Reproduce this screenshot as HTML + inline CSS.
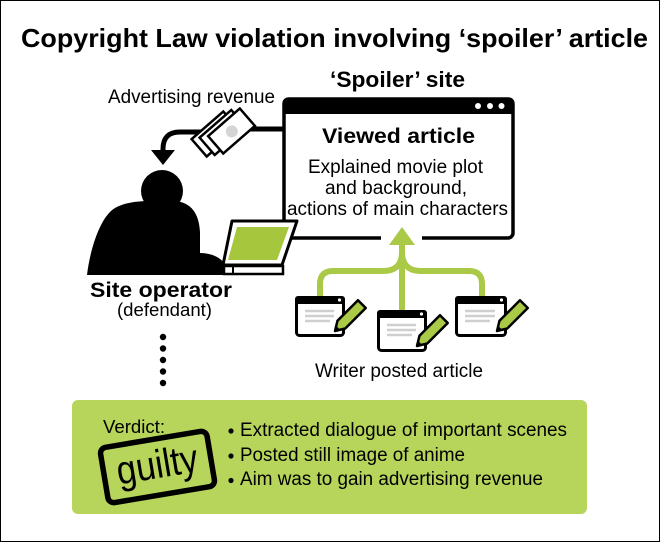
<!DOCTYPE html>
<html><head><meta charset="utf-8"><style>
html,body{margin:0;padding:0;background:#fff;}
svg{display:block;}
text{font-family:"Liberation Sans",Arial,sans-serif;fill:#000;}
</style></head><body>
<svg width="660" height="542" viewBox="0 0 660 542" xmlns="http://www.w3.org/2000/svg">
<rect x="0.5" y="0.5" width="659" height="541" fill="#fff" stroke="#000" stroke-width="1"/>

<text x="21" y="47" font-size="26" font-weight="bold" textLength="627" lengthAdjust="spacingAndGlyphs">Copyright Law violation involving ‘spoiler’ article</text>

<text x="330" y="87" font-size="22" font-weight="bold" textLength="135" lengthAdjust="spacingAndGlyphs">‘Spoiler’ site</text>
<text x="108" y="103" font-size="19" textLength="167" lengthAdjust="spacingAndGlyphs">Advertising revenue</text>

<!-- black connector to operator -->
<path d="M250,129 H285" stroke="#000" stroke-width="5" fill="none"/>
<path d="M205,132 H180 Q163,132 163,149 V152" stroke="#000" stroke-width="5" fill="none"/>
<polygon points="151,150 175,150 163,165" fill="#000"/>

<!-- bills -->
<g transform="translate(215,134) rotate(-41)"><rect x="-21" y="-11.5" width="42" height="23" fill="#fff" stroke="#000" stroke-width="2.5"/></g>
<g transform="translate(223,132.5) rotate(-41)"><rect x="-21" y="-11.5" width="42" height="23" fill="#fff" stroke="#000" stroke-width="2.5"/></g>
<g transform="translate(231.5,131) rotate(-41)"><rect x="-21" y="-11.5" width="42" height="23" fill="#fff" stroke="#000" stroke-width="2.5"/><circle cx="0" cy="0.5" r="6" fill="#d4d4d4"/></g>

<!-- browser window -->
<rect x="284" y="99" width="229" height="139" rx="5" fill="#fff" stroke="#000" stroke-width="3.5"/>
<path d="M282.5,114 V103 a5.5,5.5 0 0 1 5.5,-5.5 H509 a5.5,5.5 0 0 1 5.5,5.5 V114 Z" fill="#000"/>
<circle cx="478" cy="106" r="3" fill="#fff"/>
<circle cx="490" cy="106" r="3" fill="#fff"/>
<circle cx="501.5" cy="106" r="3" fill="#fff"/>
<rect x="381" y="234" width="41" height="7" fill="#fff"/>

<text x="322" y="143" font-size="21" font-weight="bold" textLength="153" lengthAdjust="spacingAndGlyphs">Viewed article</text>
<text x="308" y="173" font-size="19" textLength="175" lengthAdjust="spacingAndGlyphs">Explained movie plot</text>
<text x="325" y="194" font-size="19" textLength="142" lengthAdjust="spacingAndGlyphs">and background,</text>
<text x="287" y="215" font-size="19" textLength="221" lengthAdjust="spacingAndGlyphs">actions of main characters</text>

<!-- person -->
<circle cx="162" cy="191" r="21" fill="#000"/>
<path d="M87,275 C90,250 99,222 111,211 C119,204 133,201 150,201 L176,201 C191,203 199,213 200,232 L200,253 C213,253 227,259 229,275 Z" fill="#000"/>

<!-- laptop -->
<polygon points="232,221 297,221 282,265 223,265" fill="#fff" stroke="#000" stroke-width="3" stroke-linejoin="round"/>
<polygon points="237,227 289,227 277,260 228,260" fill="#a6c63d"/>
<rect x="224" y="266" width="59" height="8" fill="#fff" stroke="#000" stroke-width="2.5"/>
<line x1="233" y1="266" x2="233" y2="274" stroke="#000" stroke-width="2"/>

<text x="90" y="297" font-size="21" font-weight="bold" textLength="142" lengthAdjust="spacingAndGlyphs">Site operator</text>
<text x="117" y="316" font-size="18" textLength="95" lengthAdjust="spacingAndGlyphs">(defendant)</text>

<circle cx="163" cy="337" r="3.2" fill="#000"/>
<circle cx="163" cy="348.5" r="3.2" fill="#000"/>
<circle cx="163" cy="360" r="3.2" fill="#000"/>
<circle cx="163" cy="371.5" r="3.2" fill="#000"/>
<circle cx="163" cy="383" r="3.2" fill="#000"/>

<!-- green connectors -->
<g stroke="#a9c947" stroke-width="6" fill="none">
<path d="M402,243 V312"/>
<path d="M402,252 Q402,271 383,271 H333 Q320,271 320,284 V298"/>
<path d="M402,252 Q402,271 421,271 H469 Q482,271 482,284 V298"/>
</g>
<polygon points="402,227 389,245 415,245" fill="#a9c947"/>

<!-- docs -->
<g>
<rect x="296.5" y="297.5" width="47" height="38" rx="3" fill="#fff" stroke="#000" stroke-width="3"/>
<path d="M295,304 V299 a3,3 0 0 1 3,-3 H342 a3,3 0 0 1 3,3 V304 Z" fill="#000"/>
<circle cx="339.5" cy="300" r="1.6" fill="#fff"/>
<g stroke="#cfcfcf" stroke-width="2.5"><line x1="305" y1="311" x2="334" y2="311"/><line x1="305" y1="316" x2="334" y2="316"/><line x1="305" y1="321" x2="330" y2="321"/></g>
</g>
<g>
<rect x="378.5" y="311.5" width="47" height="39" rx="3" fill="#fff" stroke="#000" stroke-width="3"/>
<path d="M377,318 V313 a3,3 0 0 1 3,-3 H424 a3,3 0 0 1 3,3 V318 Z" fill="#000"/>
<circle cx="421.5" cy="314" r="1.6" fill="#fff"/>
<g stroke="#cfcfcf" stroke-width="2.5"><line x1="387" y1="325" x2="416" y2="325"/><line x1="387" y1="330" x2="416" y2="330"/><line x1="387" y1="335" x2="412" y2="335"/></g>
</g>
<g>
<rect x="456.5" y="297.5" width="49" height="38" rx="3" fill="#fff" stroke="#000" stroke-width="3"/>
<path d="M455,304 V299 a3,3 0 0 1 3,-3 H504 a3,3 0 0 1 3,3 V304 Z" fill="#000"/>
<circle cx="501.5" cy="300" r="1.6" fill="#fff"/>
<g stroke="#cfcfcf" stroke-width="2.5"><line x1="465" y1="311" x2="495" y2="311"/><line x1="465" y1="316" x2="495" y2="316"/><line x1="465" y1="321" x2="490" y2="321"/></g>
</g>

<!-- pencils -->
<g transform="translate(335,331) rotate(-45)">
<polygon points="0,0 9,-5.5 38,-5.5 38,5.5 9,5.5" fill="#a9c947" stroke="#000" stroke-width="2.5" stroke-linejoin="round"/>
<polygon points="0,0 4.5,-2.8 4.5,2.8" fill="#000"/>
</g>
<g transform="translate(417,346) rotate(-45)">
<polygon points="0,0 9,-5.5 38,-5.5 38,5.5 9,5.5" fill="#a9c947" stroke="#000" stroke-width="2.5" stroke-linejoin="round"/>
<polygon points="0,0 4.5,-2.8 4.5,2.8" fill="#000"/>
</g>
<g transform="translate(497,331) rotate(-45)">
<polygon points="0,0 9,-5.5 38,-5.5 38,5.5 9,5.5" fill="#a9c947" stroke="#000" stroke-width="2.5" stroke-linejoin="round"/>
<polygon points="0,0 4.5,-2.8 4.5,2.8" fill="#000"/>
</g>

<text x="315" y="377" font-size="19" textLength="168" lengthAdjust="spacingAndGlyphs">Writer posted article</text>

<!-- verdict box -->
<rect x="72" y="400" width="515" height="114" rx="6" fill="#b7d55b"/>
<text x="103" y="433" font-size="18" textLength="62" lengthAdjust="spacingAndGlyphs">Verdict:</text>
<g transform="translate(157.5,467) rotate(-9.5)">
<rect x="-54" y="-28" width="108" height="56" rx="6" fill="none" stroke="#000" stroke-width="5.5"/>
<text x="-41" y="11" font-size="40" textLength="82" lengthAdjust="spacingAndGlyphs">guilty</text>
</g>
<circle cx="231" cy="431" r="2.6" fill="#000"/>
<circle cx="231" cy="456" r="2.6" fill="#000"/>
<circle cx="231" cy="480.5" r="2.6" fill="#000"/>
<text x="240" y="436" font-size="19" textLength="327" lengthAdjust="spacingAndGlyphs">Extracted dialogue of important scenes</text>
<text x="240" y="461" font-size="19" textLength="225" lengthAdjust="spacingAndGlyphs">Posted still image of anime</text>
<text x="240" y="485" font-size="19" textLength="303" lengthAdjust="spacingAndGlyphs">Aim was to gain advertising revenue</text>
</svg>
</body></html>
